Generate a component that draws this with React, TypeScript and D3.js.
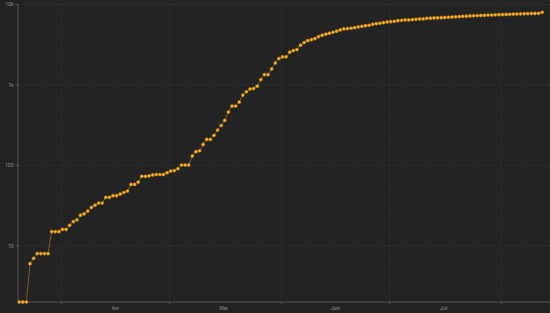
import React, { useEffect } from "react";
import * as d3 from "d3";

const START = "2020-03-20";
const values: number[] = [
  2, 2, 2, 6, 7, 8, 8, 8, 8, 15,
  15, 15, 16, 16, 18, 20, 21, 24, 25, 27,
  30, 32, 34, 34, 40, 40, 42, 42, 44, 46,
  48, 58, 58, 62, 73, 73, 74, 76, 77, 77,
  77, 81, 85, 86, 91, 101, 101, 101, 131, 148,
  152, 182, 210, 210, 236, 275, 313, 362, 460, 546,
  546, 612, 747, 821, 890, 900, 966, 1167, 1346, 1346,
  1585, 1879, 2127, 2234, 2234, 2553, 2673, 2749, 3118, 3358,
  3556, 3658, 3765, 3985, 4150, 4270, 4395, 4520, 4655, 4830,
  4970, 5010, 5070, 5155, 5260, 5360, 5455, 5520, 5680, 5780,
  5850, 5945, 6070, 6120, 6195, 6300, 6370, 6425, 6430, 6475,
  6550, 6610, 6620, 6745, 6770, 6800, 6835, 6866, 6900, 6945,
  6990, 7030, 7075, 7120, 7165, 7205, 7250, 7290, 7315, 7345,
  7380, 7407, 7435, 7470, 7500, 7530, 7565, 7595, 7620, 7650,
  7680, 7710, 7730, 7745, 7770, 7995,
];
const yTicks = [10, 100, 1000, 10000];
const yTickLabels = ["10", "100", "1k", "10k"];
const monthStarts = ["2020-04-01", "2020-05-01", "2020-06-01", "2020-07-01", "2020-08-01"];
const monthLabels = ["Avr", "Mai", "Juin", "Juil"];
const domainStart = "2020-03-20";
const domainEnd = "2020-08-14";

const W = 550;
const H = 313;

const parse = (s: string) => {
  const [y, m, d] = s.split("-").map(Number);
  return new Date(y, m - 1, d);
};

export default function App() {
  useEffect(() => {
    document.body.style.margin = "0";
    document.body.style.background = "#232323";
  }, []);

  const start = parse(START);
  const data = values.map((v, i) => ({
    date: d3.timeHour.offset(d3.timeDay.offset(start, i), 8),
    value: v,
  }));

  const x = d3
    .scaleTime()
    .domain([parse(domainStart), parse(domainEnd)])
    .range([18, 548.2]);
  const y = d3.scaleLog().domain([2, 10000]).range([302, 4.5]);

  const line = d3
    .line<{ date: Date; value: number }>()
    .x((d) => x(d.date))
    .y((d) => y(d.value));

  const months = monthStarts.map(parse);
  const font = "Roboto, 'DejaVu Sans', sans-serif";

  return (
    <svg
      width={W}
      height={H}
      style={{ position: "absolute", left: 0, top: 0, display: "block" }}
    >
      <rect x={0} y={0} width={W} height={H} fill="#232323" />
      {/* horizontal grid */}
      {yTicks.map((t) => (
        <line
          key={"hg" + t}
          x1={18}
          x2={W}
          y1={y(t)}
          y2={y(t)}
          stroke="#3a3a3a"
          strokeWidth={1}
          strokeDasharray="1,2"
        />
      ))}
      {/* vertical grid */}
      {months.map((m, i) => (
        <line
          key={"vg" + i}
          x1={x(m)}
          x2={x(m)}
          y1={4.5}
          y2={302}
          stroke="#3a3a3a"
          strokeWidth={1}
          strokeDasharray="1,2"
        />
      ))}
      {/* axes */}
      <line x1={18} x2={18} y1={4} y2={302} stroke="#555" strokeWidth={1} />
      <line x1={18} x2={W} y1={302} y2={302} stroke="#555" strokeWidth={1} />
      {yTicks.map((t, i) => (
        <g key={"yt" + t}>
          <line x1={15.5} x2={18} y1={y(t)} y2={y(t)} stroke="#555" strokeWidth={1} />
          <text
            x={13.5}
            y={y(t)}
            dy="0.35em"
            textAnchor="end"
            fontSize={5}
            fill="#8a8a8a"
            fontFamily={font}
          >
            {yTickLabels[i]}
          </text>
        </g>
      ))}
      {months.map((m, i) => (
        <line
          key={"xt" + i}
          x1={x(m)}
          x2={x(m)}
          y1={302}
          y2={304}
          stroke="#555"
          strokeWidth={1}
        />
      ))}
      {monthLabels.map((lab, i) => (
        <text
          key={"xl" + i}
          x={x(d3.timeDay.offset(months[i], 15))}
          y={309.5}
          textAnchor="middle"
          fontSize={5}
          fill="#8a8a8a"
          fontFamily={font}
        >
          {lab}
        </text>
      ))}
      {/* line */}
      <path
        d={line(data) || ""}
        fill="none"
        stroke="#c8901e"
        strokeOpacity={0.6}
        strokeWidth={0.9}
      />
      {data.map((d, i) => (
        <circle
          key={"p" + i}
          cx={x(d.date)}
          cy={y(d.value)}
          r={1.6}
          fill="#f7b02a"
          stroke="#b97a10"
          strokeWidth={0.5}
        />
      ))}
    </svg>
  );
}
